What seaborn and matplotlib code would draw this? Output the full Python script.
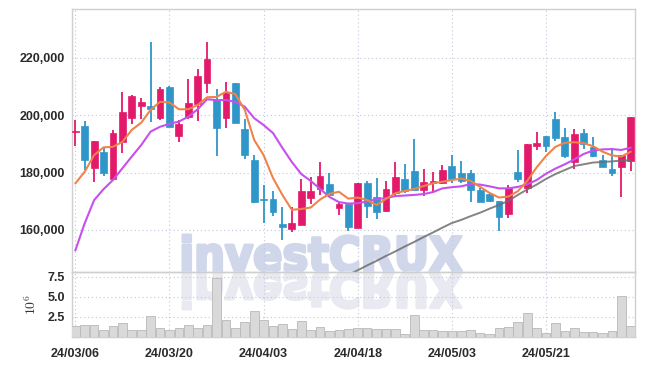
import numpy as np
import matplotlib
matplotlib.use("Agg")
import matplotlib.pyplot as plt
import seaborn as sns
from matplotlib.ticker import FuncFormatter
from matplotlib.textpath import TextPath
from matplotlib.patches import PathPatch
from matplotlib.font_manager import FontProperties
from matplotlib.transforms import Affine2D

# trading days (yy/mm/dd)
dates = [
    "24/03/06", "24/03/07", "24/03/08", "24/03/11", "24/03/12", "24/03/13", "24/03/14", "24/03/15", "24/03/18", "24/03/19",
    "24/03/20", "24/03/21", "24/03/22", "24/03/25", "24/03/26", "24/03/27", "24/03/28", "24/03/29", "24/04/01", "24/04/02",
    "24/04/03", "24/04/04", "24/04/05", "24/04/08", "24/04/09", "24/04/11", "24/04/12", "24/04/15", "24/04/16", "24/04/17",
    "24/04/18", "24/04/19", "24/04/22", "24/04/23", "24/04/24", "24/04/25", "24/04/26", "24/04/29", "24/04/30", "24/05/02",
    "24/05/03", "24/05/07", "24/05/08", "24/05/09", "24/05/10", "24/05/13", "24/05/14", "24/05/16", "24/05/17", "24/05/20",
    "24/05/21", "24/05/22", "24/05/23", "24/05/24", "24/05/27", "24/05/28", "24/05/29", "24/05/30", "24/05/31", "24/06/03",
]

open_ = [194000, 196300, 181700, 187200, 177900, 190800, 199200, 203400, 203200, 199200,
         209800, 192900, 199500, 204000, 211200, 205300, 199200, 211300, 195200, 184400,
         170800, 170800, 162100, 160400, 161700, 171200, 174200, 176000, 167500, 168900,
         160800, 176400, 171500, 166700, 173000, 177800, 180600, 173900, 176300, 176500,
         182300, 180000, 180000, 173900, 172500, 170200, 165400, 180300, 174500, 189400,
         192800, 198700, 192400, 183600, 193800, 188900, 184400, 181300, 182100, 184200]
high = [198400, 198000, 191000, 188800, 194900, 208100, 207000, 205900, 225700, 210000,
        210200, 198300, 212600, 216100, 225700, 209100, 211500, 211300, 198600, 186200,
        175700, 173600, 167900, 167900, 177700, 178600, 183800, 180000, 169800, 168900,
        176300, 177000, 178200, 177000, 183700, 182900, 191600, 181400, 180200, 182600,
        186000, 184100, 180900, 174700, 172800, 170200, 175700, 187900, 190100, 194300,
        192800, 201000, 195500, 195100, 195200, 192300, 186100, 188500, 186000, 199400]
low = [189300, 180900, 176600, 178800, 177600, 186900, 196900, 198600, 197800, 198400,
       195800, 190600, 198600, 198000, 207700, 185800, 195700, 197400, 184900, 169300,
       162500, 164800, 156500, 159400, 161700, 168900, 172200, 172200, 165100, 159600,
       160800, 164100, 163800, 166100, 171400, 173000, 173800, 171800, 172800, 176000,
       176300, 176500, 169800, 169800, 169800, 159600, 164100, 176600, 173000, 187900,
       187300, 191000, 185000, 181300, 188100, 185300, 182100, 178900, 171400, 180700]
close = [194300, 184500, 191000, 180000, 193800, 201200, 206700, 204600, 202100, 209200,
         196000, 196900, 204300, 213700, 219600, 195700, 207700, 197400, 186200, 169700,
         170400, 166400, 161100, 162300, 173600, 173600, 178800, 172200, 168900, 160900,
         176300, 168300, 166400, 174300, 178400, 173700, 173800, 176700, 177100, 180900,
         177600, 177200, 173900, 169800, 170200, 164400, 174700, 177800, 190100, 190400,
         189400, 192200, 185900, 193500, 189900, 185900, 182100, 180000, 186000, 199400]

# moving averages
ma_short = [176200, 180300, 186100, 188800, 189000, 190700, 194900, 197400, 201900, 204700,
            204500, 202100, 202100, 203600, 206300, 206400, 208200, 207400, 201900, 191400,
            186100, 178100, 172200, 167000, 167300, 167800, 170600, 172600, 173300, 170900,
            171300, 170400, 168700, 170800, 172800, 173600, 174300, 175300, 176300, 176800,
            177400, 177900, 177100, 175000, 172900, 171300, 171600, 173500, 177100, 181800,
            185800, 189000, 190400, 190600, 190300, 189200, 187300, 186000, 185600, 187300]
ma_mid = [152800, 162300, 170400, 174200, 177400, 181500, 185600, 189600, 194300, 196000,
          197000, 197800, 199500, 202100, 205600, 205300, 205300, 204700, 203000, 199000,
          196600, 193800, 188600, 183700, 179500, 177100, 174300, 171500, 169700, 169200,
          169300, 169900, 170700, 171100, 171800, 172000, 172200, 172500, 173200, 174500,
          174900, 175200, 176000, 175800, 175200, 174500, 174500, 175000, 175900, 177400,
          179600, 181400, 182900, 184600, 186500, 187700, 188100, 188200, 187900, 188700]
ma_long_start = 29
ma_long = [144300, 145900, 147600, 149200, 150900, 152500, 154200, 155800, 157500, 159100,
           160800, 162400, 163500, 164800, 166000, 167400, 168700, 170100, 172200, 174100,
           175800, 177800, 179500, 180900, 182300, 182900, 183500, 183700, 183900, 184200,
           184300]

# volume, millions of shares
volume = [1.34, 1.46, 1.46, 0.84, 1.34, 1.71, 0.84, 0.84, 2.59, 1.17,
          0.84, 1.17, 1.46, 1.09, 1.55, 7.34, 2.17, 1.17, 1.84, 3.21,
          2.17, 1.34, 1.67, 0.96, 2.05, 0.92, 1.30, 0.73, 0.84, 1.00,
          1.09, 1.17, 0.96, 1.00, 0.96, 0.42, 2.80, 0.84, 0.84, 0.75,
          0.79, 0.75, 0.84, 0.50, 0.33, 1.09, 1.21, 1.84, 3.04, 1.09,
          0.46, 1.80, 0.71, 1.09, 0.59, 0.59, 0.46, 0.71, 5.09, 1.34]

up_color = "#e31a6b"
down_color = "#2f96c9"
grid_color = "#c3c7db"
spine_color = "#cfcfcf"

sns.set_theme(style="white")
plt.rcParams["font.family"] = ["Liberation Sans", "DejaVu Sans"]
plt.rcParams["mathtext.fontset"] = "cm"

W, H = 645, 366
fig = plt.figure(figsize=(W / 100, H / 100), dpi=100)
ax = fig.add_axes([72 / W, 1 - 272 / H, (635 - 72) / W, (272 - 9) / H])
axv = fig.add_axes([72 / W, 1 - 337 / H, (635 - 72) / W, (337 - 272) / H], sharex=ax)
for a in (ax, axv):
    a.set_facecolor("none")

# watermark with reflection (stroked to look heavier)
fp = FontProperties(family="DejaVu Sans", weight="bold")
tp = TextPath((0, 0), "investCRUX", size=100, prop=fp)
ext = tp.get_extents()
x0, x1 = 183.0, 461.5
base = H - 271
top = H - 235
sx = (x1 - x0) / ext.width
sy = (top - base) / ext.y1
to_fig = Affine2D().scale(1 / W, 1 / H) + fig.transFigure
t_main = Affine2D().translate(-ext.x0, 0).scale(sx, sy).translate(x0, base) + to_fig
t_refl = Affine2D().translate(-ext.x0, 0).scale(sx, -sy).translate(x0, base - 2) + to_fig
fig.patches.append(PathPatch(tp, transform=t_main, facecolor="#d1d7ea", edgecolor="#d1d7ea",
                             lw=2.2, joinstyle="round", zorder=-1))
fig.patches.append(PathPatch(tp, transform=t_refl, facecolor="#e9eaf1", edgecolor="#e9eaf1",
                             lw=2.2, joinstyle="round", zorder=-1))

x = np.arange(len(dates))
o = np.array(open_)
c = np.array(close)
h = np.array(high)
lo = np.array(low)
up = c >= o

# candles
for mask, col in ((up, up_color), (~up, down_color)):
    ax.vlines(x[mask], lo[mask], h[mask], color=col, lw=1.3, zorder=3)
    body = np.maximum(np.abs(c[mask] - o[mask]), 400)
    ax.bar(x[mask], body, bottom=np.minimum(o[mask], c[mask]), width=0.72,
           color=col, edgecolor=col, lw=0.5, zorder=4)

# moving averages
sns.lineplot(x=x[ma_long_start:], y=ma_long, ax=ax, color="#6e6e6e", lw=1.4, alpha=0.85, zorder=5)
sns.lineplot(x=x, y=ma_mid, ax=ax, color="#c650ee", lw=1.5, zorder=5)
sns.lineplot(x=x, y=ma_short, ax=ax, color="#f0834a", lw=1.5, zorder=6)

# volume
sns.barplot(x=x, y=volume, ax=axv, native_scale=True, color="#d9d9d9",
            edgecolor="#b8b8b8", linewidth=0.6, width=0.92, saturation=1, zorder=3)

ax.set_xlim(-0.35, 59.45)
ax.set_ylim(145300, 237100)
axv.set_ylim(0, 8.1)

ax.set_yticks([160000, 180000, 200000, 220000])
ax.yaxis.set_major_formatter(FuncFormatter(lambda v, p: f"{v:,.0f}"))
axv.set_yticks([2.5, 5.0, 7.5])
axv.yaxis.set_major_formatter(FuncFormatter(lambda v, p: f"{v:.1f}"))
axv.set_xticks(x[::10])
axv.set_xticklabels([dates[i] for i in x[::10]])
ax.tick_params(labelbottom=False)

for a in (ax, axv):
    a.grid(True, ls=(0, (1, 2.5)), color=grid_color, lw=0.8)
    a.set_axisbelow(True)
    a.tick_params(length=0, labelsize=9, colors="#2a2a2a", pad=5)
    for lab in a.get_xticklabels() + a.get_yticklabels():
        lab.set_fontweight("bold")
    for s in a.spines.values():
        s.set_color(spine_color)
        s.set_linewidth(1.0)
    a.set_xlabel("")
    a.set_ylabel("")
axv.tick_params(axis="x", pad=8)
axv.set_ylabel(r"$10^6$", fontsize=10, color="#333333", labelpad=6)

fig.savefig("out.png", dpi=100)
